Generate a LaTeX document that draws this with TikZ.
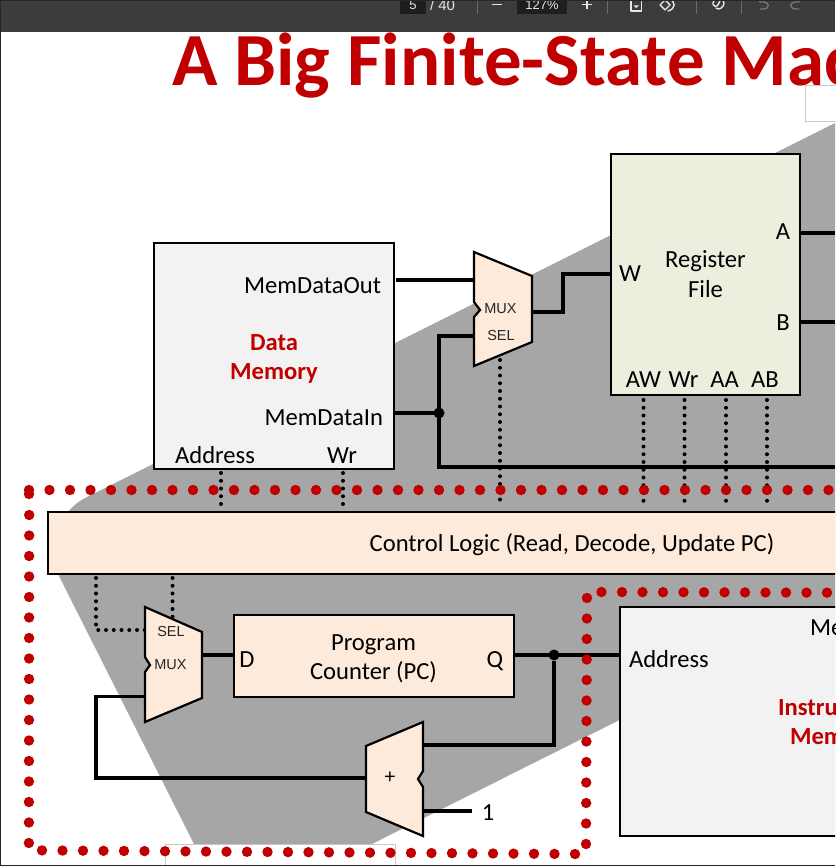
\documentclass[tikz,border=0pt]{standalone}
\usepackage{fontspec}
\setmainfont{Carlito}
\newfontfamily\arialfont{Liberation Sans}
\definecolor{barbg}{HTML}{3C3C3C}
\definecolor{bardark}{HTML}{1E1E1E}
\definecolor{barfg}{HTML}{E6E6E6}
\definecolor{bardim}{HTML}{757575}
\definecolor{barsep}{HTML}{6A6A6A}
\definecolor{greyzone}{HTML}{A6A6A6}
\definecolor{peach}{HTML}{FDEADA}
\definecolor{regfill}{HTML}{EBEFDE}
\definecolor{memfill}{HTML}{F2F2F2}
\definecolor{darkred}{HTML}{C00000}
\definecolor{ghost}{HTML}{C8C8C8}
\tikzset{
  x=1pt,y=-1pt,
  every node/.style={inner sep=0pt,outer sep=0pt},
  blockbox/.style={draw=black,line width=2.2pt,anchor=north west},
  muxshape/.style={draw=black,line width=2.2pt,fill=peach,line join=miter},
  wire/.style={draw=black,line width=3.8pt,line join=miter},
  ctrl/.style={draw=black,line width=4pt,line cap=round,dash pattern=on 0pt off 7.75pt},
  lbl/.style={anchor=base,font=\fontsize{24.6}{29}\selectfont,text=black},
  redlbl/.style={anchor=base,font=\fontsize{24.6}{29}\selectfont\bfseries,text=darkred},
  smalllbl/.style={font=\arialfont\fontsize{14.5}{17}\selectfont,text=black!85},
  barlbl/.style={font=\arialfont\fontsize{13}{15}\selectfont,text=barfg},
  reddot/.style={fill=darkred,draw=none},
  baricon/.style={draw=barfg,line width=1.4pt,line cap=round,line join=round},
  junction/.style={circle,fill=black,minimum size=11pt},
}
\begin{document}
\begin{tikzpicture}
\useasboundingbox (0,0) rectangle (835,866);
\clip (0,0) rectangle (835,866);
\fill[white] (0,0) rectangle (835,866);
% grey background shape
\fill[greyzone] (835,123) -- (147,467)
  [rounded corners=60pt] -- (33,524) [sharp corners] -- (60,578) -- (194,844) -- (372,844) -- (835,612) -- cycle;
% ghost placeholder frames
\draw[ghost,line width=1pt,fill=white] (805,86) rectangle (840,121.5);
\draw[ghost,line width=1pt,fill=white] (165,844.5) rectangle (395,870);
% title
\node[anchor=base west,font=\fontsize{75}{80}\selectfont\bfseries,text=darkred] (title) at (172,85.5) {A Big Finite-State Mac};
% toolbar
\fill[barbg] (0,0) rectangle (835,32);
\fill[bardark] (400,-2) rectangle (426,14);
\fill[bardark] (517,-2) rectangle (567,14);
\node[barlbl] (pagenum) at (413,5) {5};
\node[barlbl,anchor=west,font=\arialfont\fontsize{15}{15}\selectfont] (pagetot) at (430,5) {/ 40};
\node[barlbl] (zoomval) at (542,5) {127\%};
\draw[barsep,line width=1pt] (477,0) -- (477,14) (607,0) -- (607,14) (696,0) -- (696,14) (741,0) -- (741,14);
\draw[barfg,line width=1.8pt] (492,4.5) -- (502,4.5);
\draw[barfg,line width=1.8pt] (582,4.5) -- (592,4.5) (587,-0.5) -- (587,9.5);
\draw[baricon] (631,-3) rectangle (641.5,11);
\fill[barfg] (633.5,5.5) -- (639,5.5) -- (636.2,8) -- cycle;
\draw[baricon] (665,0) -- (670,5) -- (665,10) -- (660,5) -- cycle;
\draw[baricon] (669,-1) .. controls (676,1) and (676,9) .. (668,11);
\draw[baricon] (714,1) .. controls (710,6) and (718,9) .. (719,3) .. controls (719,-1) and (724,-1) .. (724,3) .. controls (724,7) and (719,11) .. (716,8);
\draw[bardim,line width=1.4pt,line cap=round,line join=round] (760,2) -- (758,0) (760,2) -- (763,2) .. controls (770,2) and (770,9) .. (763,9) -- (760,9);
\draw[bardim,line width=1.4pt,line cap=round,line join=round] (799,2) -- (801,0) (799,2) -- (796,2) .. controls (789,2) and (789,9) .. (796,9) -- (799,9);
% control-signal lines sit under the blocks
\coordinate (muxaSel) at (500,360);
\coordinate (clA) at (500,505);
\coordinate (awTop) at (643.5,400);
\coordinate (awBot) at (643.5,505);
\coordinate (wrTop) at (684.5,400);
\coordinate (wrBot) at (684.5,505);
\coordinate (aaTop) at (726,400);
\coordinate (aaBot) at (726,505);
\coordinate (abTop) at (767,400);
\coordinate (abBot) at (767,505);
\coordinate (addrTop) at (221,473);
\coordinate (addrBot) at (221,506);
\coordinate (dwrTop) at (343,473);
\coordinate (dwrBot) at (343,506);
\coordinate (clB) at (96,578);
\coordinate (clBc) at (96,630);
\coordinate (muxbSelL) at (145,630);
\coordinate (clC) at (172.5,578);
\coordinate (muxbSelT) at (172.5,618);
\draw[ctrl] (muxaSel) -- (clA);
\draw[ctrl] (awTop) -- (awBot);
\draw[ctrl] (wrTop) -- (wrBot);
\draw[ctrl] (aaTop) -- (aaBot);
\draw[ctrl] (abTop) -- (abBot);
\draw[ctrl] (addrTop) -- (addrBot);
\draw[ctrl] (dwrTop) -- (dwrBot);
\draw[ctrl] (clB) -- (clBc) -- (muxbSelL);
\draw[ctrl] (clC) -- (muxbSelT);
% blocks
\node[blockbox,fill=memfill,minimum width=240pt,minimum height=226pt] (dmem) at (154,243) {};
\node[blockbox,fill=regfill,minimum width=189pt,minimum height=241pt] (regs) at (611,154) {};
\node[blockbox,fill=peach,minimum width=800pt,minimum height=62pt] (ctl) at (48,512) {};
\node[blockbox,fill=peach,minimum width=280pt,minimum height=82pt] (pc) at (234,615) {};
\node[blockbox,fill=memfill,minimum width=240pt,minimum height=229pt] (imem) at (620,607) {};
% muxes and adder
\draw[muxshape] (474,252) -- (532,276) -- (532,342) -- (474,366) -- (474,317) -- (480,310) -- (474,302) -- cycle;
\draw[muxshape] (145,607) -- (202,632) -- (202,698) -- (145,722) -- (145,672) -- (150,665) -- (145,657) -- cycle;
\draw[muxshape] (366,746) -- (423,722) -- (423,771) -- (418,779) -- (423,787) -- (423,836) -- (366,812) -- cycle;
% port coordinates
\coordinate (mdoOut) at (396,280);
\coordinate (muxaIn1) at (474,280);
\coordinate (muxaIn2) at (474,336);
\coordinate (muxaOut) at (532,312);
\coordinate (regW) at (611,274);
\coordinate (mdiOut) at (394,413);
\coordinate (busEnd) at (835,467);
\coordinate (regA) at (800,233);
\coordinate (regAr) at (835,233);
\coordinate (regB) at (800,322);
\coordinate (regBr) at (835,322);
\coordinate (muxbOut) at (202,655);
\coordinate (pcD) at (234,655);
\coordinate (pcQ) at (514,655);
\coordinate (imemAddr) at (620,655);
\coordinate (addIn) at (423,745);
\coordinate (addOut) at (366,778);
\coordinate (muxbIn) at (145,696.5);
\coordinate (addOne) at (423,811);
\coordinate (oneEnd) at (472,811);
\node[junction] (j1) at (439,413) {};
\node[junction] (j2) at (554,655) {};
% wires
\draw[wire] (mdoOut) -- (muxaIn1);
\draw[wire] (muxaOut) -- (563,312) -- (563,274) -- (regW);
\draw[wire] (muxaIn2) -- (439,336) -- (439,467) -- (busEnd);
\draw[wire] (mdiOut) -- (j1);
\draw[wire] (regA) -- (regAr);
\draw[wire] (regB) -- (regBr);
\draw[wire] (muxbOut) -- (pcD);
\draw[wire] (pcQ) -- (imemAddr);
\draw[wire] (j2) -- (554,745) -- (addIn);
\draw[wire] (addOut) -- (96,778) -- (96,696.5) -- (muxbIn);
\draw[wire] (addOne) -- (oneEnd);
% labels
\node[lbl,anchor=base east] (tMdo) at (381,293) {MemDataOut};
\node[lbl,anchor=base east] (tMdi) at (383,425) {MemDataIn};
\node[redlbl] (tData) at (274,350) {Data};
\node[redlbl] (tMem) at (274,379) {Memory};
\node[lbl] (tAddr) at (215,463) {Address};
\node[lbl] (tWr) at (342,463) {Wr};
\node[lbl] (tW) at (630,281) {W};
\node[lbl] (tRF1) at (705.5,268) {Register};
\node[lbl] (tRF2) at (705.5,297) {File};
\node[lbl] (tA) at (783,240) {A};
\node[lbl] (tB) at (783,330) {B};
\node[lbl] (tAW) at (643.5,387) {AW};
\node[lbl] (tWr2) at (683.5,387) {Wr};
\node[lbl] (tAA) at (724.5,387) {AA};
\node[lbl] (tAB) at (765,387) {AB};
\node[lbl] (tCtl) at (572,551) {Control Logic (Read, Decode, Update PC)};
\node[lbl] (tPc1) at (373.5,650) {Program};
\node[lbl] (tPc2) at (373.5,679) {Counter (PC)};
\node[lbl] (tD) at (247,667) {D};
\node[lbl] (tQ) at (495,667) {Q};
\node[lbl,anchor=base west] (tIaddr) at (629,667) {Address};
\node[lbl,anchor=base west] (tIme) at (810,635) {Me};
\node[redlbl,anchor=base west] (tIn) at (778,715) {Instru};
\node[redlbl,anchor=base west] (tIm) at (790,744) {Mem};
\node[lbl] (tOne) at (488,820) {1};
\node[smalllbl] (tMuxA) at (500.5,309) {MUX};
\node[smalllbl] (tSelA) at (501,336) {SEL};
\node[smalllbl] (tSelB) at (171,632) {SEL};
\node[smalllbl] (tMuxB) at (170.5,664.5) {MUX};
\node[font=\arialfont\fontsize{20}{22}\selectfont,text=black] (tPlus) at (390,778) {+};
% red dotted outlines
\foreach \k in {0,...,39} \fill[reddot] ({29+20.5*\k},490) circle (5.2pt);
\fill[reddot] (29,494) circle (5.2pt);
\foreach \k in {0,...,16} \fill[reddot] ({29.2-0.02*\k},{515+20.5*\k}) circle (5.2pt);
\foreach \k in {0,...,26} \fill[reddot] ({42+20.5*\k},{850.4+0.14*\k}) circle (5.2pt);
\foreach \k in {0,...,12} \fill[reddot] ({586+0.08*\k},{844-20.5*\k}) circle (5.2pt);
\foreach \k in {0,...,12} \fill[reddot] ({601.5+20.5*\k},{592+0.06*\k}) circle (5.2pt);
% window frame
\draw[black!85,line width=1.2pt] (0.3,0) -- (0.3,866) (0,865.6) -- (835,865.6) (0,0.4) -- (835,0.4);
\end{tikzpicture}
\end{document}
